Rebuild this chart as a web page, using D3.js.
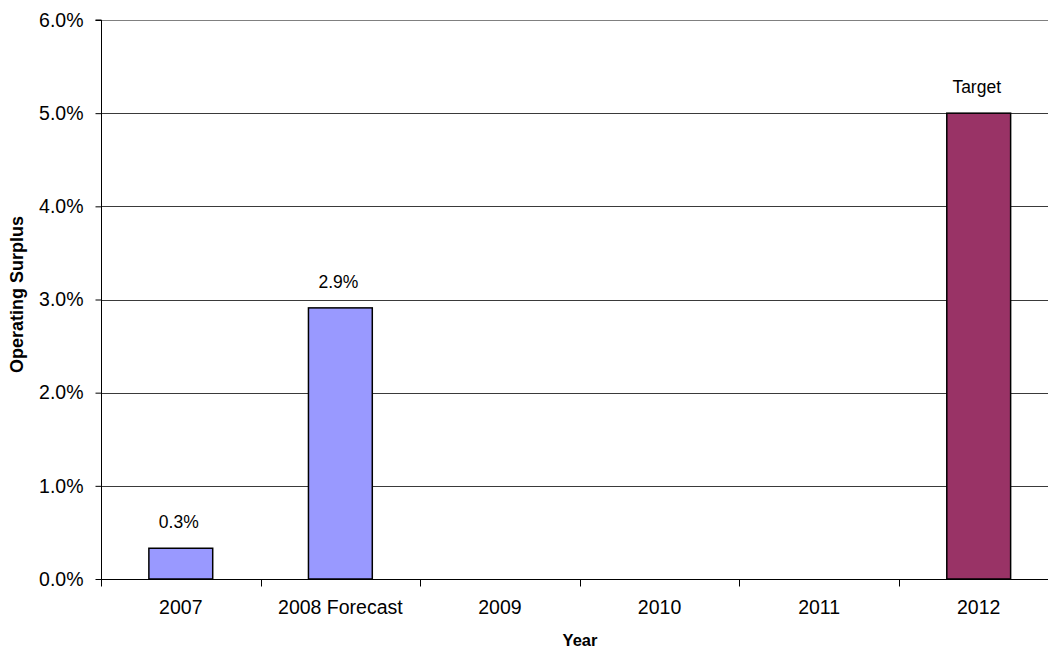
<!DOCTYPE html>
<html>
<head>
<script src="https://cdnjs.cloudflare.com/ajax/libs/d3/7.8.5/d3.min.js"></script>
<style>
  body { margin: 0; background: #fff; }
  svg { font-family: "Liberation Sans", Arial, sans-serif; display: block; }
  .bar { stroke: #000; stroke-width: 1.5; }
</style>
</head>
<body>
<svg id="chart" width="1048" height="651"></svg>
<script>
// chart data
const years = ["2007", "2008 Forecast", "2009", "2010", "2011", "2012"];
const surplus = [0.33, 2.91, null, null, null, 5.0];
const barLabels = ["0.3%", "2.9%", "", "", "", "Target"];
const barColors = ["#9999FF", "#9999FF", "#9999FF", "#9999FF", "#9999FF", "#993366"];
const yTicks = [0, 1, 2, 3, 4, 5, 6];

const svg = d3.select("#chart");
const plotL = 101, plotT = 20, plotB = 579, plotR = 1058.5;

const x = d3.scaleBand().domain(years).range([plotL, plotR]).paddingInner(0).paddingOuter(0);
const y = d3.scaleLinear().domain([0, 6]).range([plotB, plotT]);

// gridlines
svg.append("g").attr("class", "grid")
  .selectAll("line").data(yTicks.filter(d => d > 0)).enter()
  .append("line")
  .attr("x1", plotL).attr("x2", plotR)
  .attr("y1", d => Math.round(y(d)) + 0.5).attr("y2", d => Math.round(y(d)) + 0.5)
  .attr("stroke", d => d === 6 ? "#808080" : "#3a3a3a");

// bars
const data = years.map((c, i) => ({ c, v: surplus[i], label: barLabels[i], color: barColors[i] }))
  .filter(d => d.v != null);
const bw = x.bandwidth() * 0.4;

svg.selectAll(".bar").data(data).enter()
  .append("rect").attr("class", "bar")
  .attr("x", d => x(d.c) + (x.bandwidth() - bw) / 2)
  .attr("width", bw)
  .attr("y", d => y(d.v))
  .attr("height", d => y(0) - y(d.v))
  .attr("fill", d => d.color);

svg.selectAll(".lbl").data(data).enter()
  .append("text").attr("class", "lbl")
  .attr("x", d => x(d.c) + x.bandwidth() / 2 - 2)
  .attr("y", d => y(d.v) - 20)
  .attr("text-anchor", "middle")
  .attr("font-size", 17.5)
  .text(d => d.label);

// y axis
const yAxis = svg.append("g").attr("transform", `translate(${plotL + 0.5},0)`)
  .call(d3.axisLeft(y).tickValues(yTicks).tickSize(6).tickPadding(12)
    .tickFormat(d => d.toFixed(1) + "%"));
yAxis.selectAll("text").attr("font-size", 19.5).attr("fill", "#000").attr("font-family", "Liberation Sans, Arial, sans-serif");
yAxis.selectAll("line, path").attr("stroke", "#000");
yAxis.select(".domain").attr("d", `M-6,${plotT}H0V${plotB}`);

// x axis
const xAxis = svg.append("g").attr("transform", `translate(0,${plotB + 0.5})`)
  .call(d3.axisBottom(x).tickSize(0).tickPadding(21));
xAxis.selectAll("text").attr("font-size", 19.5).attr("fill", "#000").attr("font-family", "Liberation Sans, Arial, sans-serif");
xAxis.select(".domain").attr("stroke", "#000").attr("d", `M${plotL},0H${plotR}`);
xAxis.selectAll(".sep").data(years.concat([null])).enter()
  .append("line").attr("class", "sep")
  .attr("x1", (d, i) => Math.round(plotL + i * x.bandwidth()) + 0.5)
  .attr("x2", (d, i) => Math.round(plotL + i * x.bandwidth()) + 0.5)
  .attr("y1", 0).attr("y2", 7).attr("stroke", "#000");

// titles
svg.append("text").attr("x", 580).attr("y", 646)
  .attr("text-anchor", "middle").attr("font-size", 16.5).attr("font-weight", "bold")
  .text("Year");
svg.append("text").attr("transform", "translate(23,294.5) rotate(-90)")
  .attr("text-anchor", "middle").attr("font-size", 18).attr("font-weight", "bold")
  .text("Operating Surplus");
</script>
</body>
</html>
